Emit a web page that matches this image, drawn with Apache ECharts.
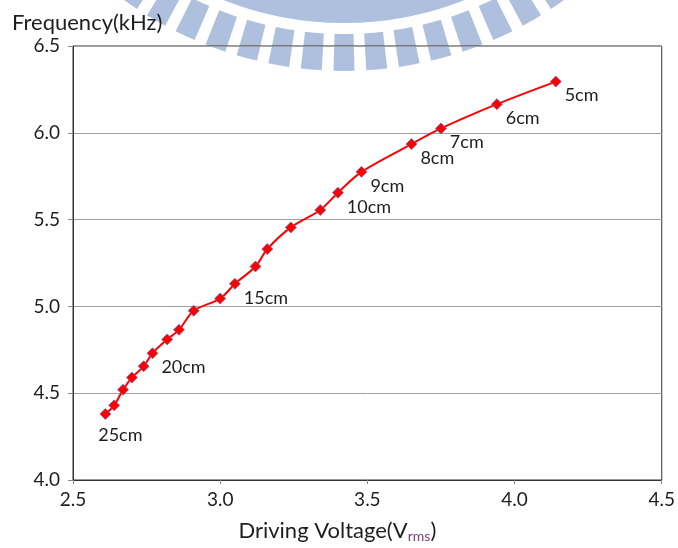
<!DOCTYPE html>
<html>
<head>
<meta charset="utf-8">
<script src="https://cdn.jsdelivr.net/npm/echarts@6/dist/echarts.min.js"></script>
<style>
  html, body { margin: 0; padding: 0; background: #fff; }
  #chart { width: 678px; height: 548px; }
</style>
</head>
<body>
<div id="chart"></div>
<script>
// Resonant frequency against driving voltage, one point per distance
const voltage = [2.61, 2.64, 2.67, 2.70, 2.74, 2.77, 2.82, 2.86, 2.91, 3.00, 3.05,
                 3.12, 3.16, 3.24, 3.34, 3.40, 3.48, 3.65, 3.75, 3.94, 4.14];
const frequency = [4.38, 4.43, 4.52, 4.59, 4.655, 4.73, 4.81, 4.865, 4.975, 5.045, 5.13,
                   5.23, 5.33, 5.455, 5.555, 5.655, 5.775, 5.935, 6.025, 6.165, 6.295];
const distanceLabels = ['25cm', '', '', '', '', '20cm', '', '', '', '', '15cm',
                        '', '', '', '', '10cm', '9cm', '8cm', '7cm', '6cm', '5cm'];
const xTicks = [2.5, 3.0, 3.5, 4.0, 4.5];
const yTicks = [4.0, 4.5, 5.0, 5.5, 6.0, 6.5];

const FONT = 'Lato, "Open Sans", sans-serif';
const TEXT = '#1e1e1e';

// Emblem drawn faintly behind the plot: an arc band with radiating bars
const LOGO = { cx: 344, cy: -305, color: '#afc0df' };
const logoParts = [{
  type: 'sector', z: -10, silent: true,
  shape: { cx: LOGO.cx, cy: LOGO.cy, r0: 290, r: 328, startAngle: 0, endAngle: Math.PI },
  style: { fill: LOGO.color }
}];
for (let k = -17; k <= 17; k++) {
  const mid = Math.PI / 2 + k * 5 * Math.PI / 180;
  const half = 1.6 * Math.PI / 180;
  logoParts.push({
    type: 'sector', z: -10, silent: true,
    shape: { cx: LOGO.cx, cy: LOGO.cy, r0: 339, r: 376, startAngle: mid - half, endAngle: mid + half },
    style: { fill: LOGO.color }
  });
}

const points = voltage.map((v, i) => {
  const item = { value: [v, frequency[i]] };
  const text = distanceLabels[i];
  if (!text) {
    item.label = { show: false };
  } else if (i === 0) {
    item.label = { show: true, position: 'bottom', distance: 4, offset: [15, 2], formatter: text };
  } else {
    item.label = { show: true, position: 'right', distance: 3, offset: [0, 14], formatter: text };
  }
  return item;
});

const chart = echarts.init(document.getElementById('chart'), null, { renderer: 'canvas' });
chart.setOption({
  animation: false,
  backgroundColor: '#fff',
  title: {
    text: 'Frequency(kHz)',
    left: 7, top: 7,
    textStyle: { fontFamily: FONT, fontSize: 22, fontWeight: 'normal', color: TEXT }
  },
  graphic: logoParts,
  grid: {
    left: 73, right: 15, top: 46, bottom: 66,
    show: true, borderColor: '#333', borderWidth: 1, backgroundColor: 'transparent'
  },
  xAxis: {
    type: 'value', min: 2.5, max: 4.5, interval: 0.5,
    name: '{a|Driving Voltage(V}{s|rms}{a|)}',
    nameLocation: 'middle', nameGap: 38,
    nameTextStyle: {
      padding: [0, 60, 0, 0],
      rich: {
        a: { fontFamily: FONT, fontSize: 22, color: TEXT },
        s: { fontFamily: FONT, fontSize: 14, color: '#7b3f7b', padding: [11, 0, 0, 0] }
      }
    },
    axisLine: { lineStyle: { color: '#333', width: 1 } },
    axisTick: { show: true, length: 4, lineStyle: { color: '#888' } },
    axisLabel: {
      fontFamily: FONT, fontSize: 19, color: TEXT, margin: 10,
      formatter: v => xTicks.includes(+v.toFixed(1)) ? v.toFixed(1) : ''
    },
    splitLine: { show: false }
  },
  yAxis: {
    type: 'value', min: 4.0, max: 6.5, interval: 0.5,
    axisLine: { show: true, lineStyle: { color: '#333', width: 1 } },
    axisTick: { show: true, length: 5, lineStyle: { color: '#888' } },
    axisLabel: {
      fontFamily: FONT, fontSize: 19, color: TEXT, margin: 13,
      formatter: v => yTicks.includes(+v.toFixed(1)) ? v.toFixed(1) : ''
    },
    splitLine: { show: true, lineStyle: { color: '#a0a0a0', width: 1 } }
  },
  series: [{
    type: 'line',
    data: points,
    smooth: 0.3,
    symbol: 'diamond',
    symbolSize: 11,
    lineStyle: { color: '#ff0000', width: 2 },
    itemStyle: { color: '#ff0000', borderColor: '#6a6aa8', borderWidth: 0.8 },
    label: { fontFamily: FONT, fontSize: 18, color: TEXT },
    z: 3
  }]
});
</script>
</body>
</html>
